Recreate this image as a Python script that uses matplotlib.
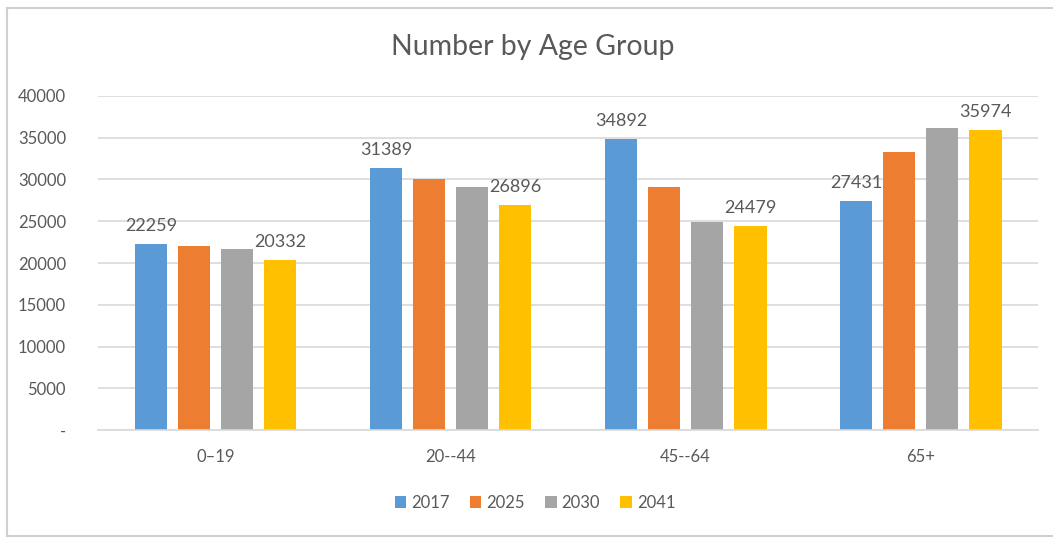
"""Number by Age Group - clustered bar chart, Excel style."""

import matplotlib

matplotlib.use("Agg")
import matplotlib.pyplot as plt  # noqa: E402
import numpy as np  # noqa: E402
from matplotlib.lines import Line2D  # noqa: E402

GROUPS = ["0\u201319", "20--44", "45--64", "65+"]
YEARS = ["2017", "2025", "2030", "2041"]
V2017 = [22259, 31389, 34892, 27431]
V2025 = [21980, 30000, 29050, 33350]
V2030 = [21680, 29100, 24850, 36200]
V2041 = [20332, 26896, 24479, 35974]
LABELLED = ["2017", "2041"]

COLORS = ["#5b9bd5", "#ed7d31", "#a5a5a5", "#ffc000"]
TEXT = "#595959"
GRID = "#d9d9d9"

plt.rcParams.update({
    "font.family": ["Lato", "DejaVu Sans"],
    "font.size": 11,
    "text.color": TEXT,
})

fig = plt.figure(figsize=(10.53, 5.38), dpi=100)
ax = fig.add_axes([0.0931, 0.2007, 0.8927, 0.6209])

series = [V2017, V2025, V2030, V2041]
x = np.arange(len(GROUPS))
step = 0.183
width = 0.14
for i, (year, vals, col) in enumerate(zip(YEARS, series, COLORS)):
    pos = x + (i - 1.5) * step
    bars = ax.bar(pos, vals, width=width, color=col, label=year, zorder=2)
    if year in LABELLED:
        for b, v in zip(bars, vals):
            ax.text(b.get_x() + b.get_width() / 2, v + 1200, f"{v}",
                    ha="center", va="bottom", fontsize=13, color=TEXT)

ax.set_xlim(-0.5, len(GROUPS) - 0.5)
ax.set_ylim(0, 40000)
ticks = np.arange(0, 40001, 5000)
ax.set_yticks(ticks)
ax.set_yticklabels(["-"] + [str(t) for t in ticks[1:]])
ax.set_xticks(x)
ax.set_xticklabels(GROUPS)
ax.tick_params(axis="both", length=0, colors=TEXT)
ax.tick_params(axis="y", pad=23, labelsize=12)
ax.tick_params(axis="x", pad=14, labelsize=12)
ax.grid(True, axis="y", color=GRID, linewidth=1.2, zorder=0)
for side in ["top", "right", "left"]:
    ax.spines[side].set_visible(False)
ax.spines["bottom"].set_color(GRID)
ax.spines["bottom"].set_linewidth(1.2)

fig.text(0.506, 0.912, "Number by Age Group", ha="center", va="center",
         fontsize=20.5, color=TEXT)

fig.legend(loc="center", bbox_to_anchor=(0.508, 0.065), ncol=4, frameon=False,
           handlelength=0.7, handleheight=0.7, handletextpad=0.3,
           columnspacing=1.2, fontsize=12)

# light chart-area border: top, left and bottom edges only
bx0, by0, by1 = 7 / 1053, 2 / 538, 530 / 538
for xs, ys in [([bx0, 1.0], [by1, by1]), ([bx0, bx0], [by0, by1]),
               ([bx0, 1.0], [by0, by0])]:
    fig.add_artist(Line2D(xs, ys, transform=fig.transFigure,
                          color="#d0d0d0", linewidth=1.5))

fig.savefig("out.png", dpi=100)
